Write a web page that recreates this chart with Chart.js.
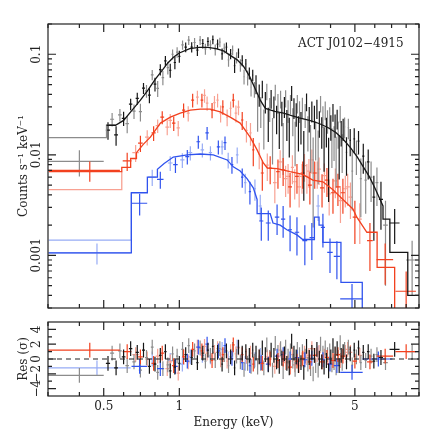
<!DOCTYPE html>
<html>
<head>
<meta charset="utf-8">
<script src="https://cdn.jsdelivr.net/npm/chart.js@4.4.1/dist/chart.umd.min.js"></script>
<style>
    body { margin: 0; background: #fff; }
    #wrap { position: relative; width: 443px; height: 443px; }
    canvas { position: absolute; left: 0; }
    #spectrum { top: 0; }
    #residuals { top: 315px; }
</style>
</head>
<body>
<div id="wrap">
    <canvas id="spectrum" width="443" height="315"></canvas>
    <canvas id="residuals" width="443" height="128"></canvas>
</div>
<script>
// ---- tick labels ----
const xTickLabels = [0.5, 1, 5];
const xTickMarks = [0.3, 0.4, 0.5, 0.6, 0.7, 0.8, 0.9, 1, 2, 3, 4, 5, 6, 7, 8, 9];
const specTickValues = [0.001, 0.01, 0.1];
const specTickLabels = ["0.001", "0.01", "0.1"];
const resTickValues = [-4, -2, 0, 2, 4];
const resTickLabels = ["\u22124", "\u22122", "0", "2", "4"];
const resMinorTicks = [-3, -1, 1, 3];

// ---- black (obs 1) ----
const blackE = [0.52, 0.56, 0.60, 0.64, 0.68, 0.72, 0.76, 0.80, 0.84, 0.88, 0.92, 0.96, 1.00,
    1.06, 1.12, 1.18, 1.24, 1.30, 1.36, 1.42, 1.48, 1.54, 1.60, 1.66, 1.72, 1.78, 1.84, 1.90, 1.96,
    2.02, 2.08, 2.14, 2.20, 2.26, 2.32, 2.38, 2.44, 2.50, 2.56, 2.62, 2.68, 2.74, 2.80, 2.86, 2.92, 2.98,
    3.05, 3.13, 3.21, 3.29, 3.37, 3.45, 3.53, 3.61, 3.69, 3.77, 3.85, 3.93, 4.01, 4.09, 4.17, 4.25, 4.33, 4.41, 4.49,
    4.63, 4.79, 4.97, 5.17, 5.40, 5.65, 5.95, 6.35, 7.20];
const blackV = [0.0176, 0.0158, 0.0231, 0.0319, 0.0365, 0.0460, 0.0393, 0.0505, 0.0705, 0.0860, 0.0694, 0.0828, 0.0953,
    0.118, 0.118, 0.110, 0.128, 0.134, 0.140, 0.126, 0.101, 0.118, 0.101, 0.077, 0.103, 0.087, 0.080, 0.065, 0.062,
    0.051, 0.040, 0.0455, 0.034, 0.0214, 0.0364, 0.0306, 0.0234, 0.0187, 0.0265, 0.0305, 0.0208, 0.0164, 0.0413, 0.0296, 0.0258, 0.0175,
    0.0197, 0.0104, 0.034, 0.0233, 0.0275, 0.0244, 0.029, 0.0210, 0.0176, 0.0128, 0.0176, 0.0091, 0.0193, 0.0267, 0.020, 0.023, 0.0107, 0.0169, 0.0183,
    0.0106, 0.0139, 0.0144, 0.0137, 0.0097, 0.0085, 0.0038, 0.0036, 0.0021];
const blackErr = [0.0035, 0.0035, 0.0037, 0.0042, 0.0050, 0.0058, 0.0067, 0.0078, 0.0090, 0.0100, 0.0110, 0.0120, 0.0128,
    0.013, 0.014, 0.014, 0.014, 0.014, 0.014, 0.014, 0.013, 0.013, 0.012, 0.012, 0.011, 0.011, 0.010, 0.009, 0.008,
    0.011, 0.010, 0.009, 0.0082, 0.008, 0.0077, 0.0075, 0.0074, 0.0073, 0.0073, 0.0072, 0.0071, 0.007, 0.007, 0.0069, 0.0068, 0.0067,
    0.007, 0.0069, 0.0068, 0.0066, 0.0065, 0.0064, 0.0063, 0.0062, 0.0061, 0.006, 0.0058, 0.0057, 0.0055, 0.0054, 0.0052, 0.0051, 0.005, 0.0048, 0.0046,
    0.0044, 0.0042, 0.004, 0.0036, 0.0032, 0.0028, 0.0024, 0.0018, 0.0008];
const blackW = [0.01, 0.01, 0.01, 0.01, 0.01, 0.01, 0.01, 0.01, 0.01, 0.01, 0.01, 0.01, 0.01,
    0.012, 0.012, 0.012, 0.012, 0.012, 0.012, 0.012, 0.012, 0.012, 0.012, 0.012, 0.012, 0.012, 0.012, 0.012, 0.012,
    0.012, 0.012, 0.012, 0.012, 0.012, 0.012, 0.012, 0.012, 0.012, 0.012, 0.012, 0.012, 0.012, 0.012, 0.012, 0.012, 0.012,
    0.015, 0.015, 0.015, 0.015, 0.015, 0.015, 0.015, 0.015, 0.015, 0.015, 0.015, 0.015, 0.015, 0.015, 0.015, 0.015, 0.015, 0.015, 0.015,
    0.03, 0.035, 0.04, 0.045, 0.055, 0.065, 0.075, 0.12, 0.33];
const blackRes = [-0.6, -1.2, 0.3, 1.4, 0.9, 1.2, -1.0, -0.7, 0.5, 1.0, -1.6, -1.1, -0.6,
    0.6, 0.2, -0.5, 0.8, 1.2, 1.7, 0.9, -0.7, 1.1, 0.3, -1.2, 1.6, 0.8, 1.0, 0.5, 1.2,
    0.8, 0.3, 1.5, 0.6, -0.8, 1.2, 0.5, -0.4, -1.0, 0.1, 0.7, -0.6, -1.2, 2.4, 0.8, 0.3, -0.9,
    -0.5, -1.8, 1.7, 0.2, 0.9, 0.5, 1.3, 0.1, -0.4, -1.1, -0.2, -1.6, 0.3, 1.8, 0.7, 1.4, -0.9, 0.5, 1.0,
    -0.4, 0.7, 1.2, 1.5, 0.9, 1.0, -0.3, 0.2, 1.3];

// ---- grey (obs 2) ----
const greyE = [0.40,
    0.54, 0.58, 0.62, 0.66, 0.70, 0.74, 0.78, 0.82, 0.86, 0.90, 0.94, 0.98,
    1.03, 1.09, 1.15, 1.21, 1.27, 1.33, 1.39, 1.45, 1.51, 1.57, 1.63, 1.69, 1.75, 1.81, 1.87, 1.93, 1.99,
    2.05, 2.11, 2.17, 2.23, 2.29, 2.35, 2.41, 2.47, 2.53, 2.59, 2.65, 2.71, 2.77, 2.83, 2.89, 2.95, 3.01,
    3.09, 3.17, 3.25, 3.33, 3.41, 3.49, 3.57, 3.65, 3.73, 3.81, 3.89, 3.97, 4.05, 4.13, 4.21, 4.29, 4.37, 4.45,
    4.55, 4.71, 4.88, 5.07, 5.28, 5.52, 5.80, 6.12, 6.62, 8.45];
const greyV = [0.0086,
    0.0226, 0.0250, 0.0204, 0.0272, 0.0269, 0.0432, 0.0625, 0.0459, 0.0587, 0.0736, 0.1000, 0.1050,
    0.124, 0.138, 0.131, 0.138, 0.113, 0.124, 0.111, 0.132, 0.115, 0.088, 0.110, 0.093, 0.078, 0.060, 0.059, 0.047, 0.045,
    0.028, 0.028, 0.0198, 0.043, 0.029, 0.0156, 0.0423, 0.0329, 0.0362, 0.0135, 0.0367, 0.0278, 0.0323, 0.0222, 0.0145, 0.0325, 0.0274,
    0.030, 0.0253, 0.0175, 0.0132, 0.0084, 0.0152, 0.0113, 0.0324, 0.0245, 0.028, 0.022, 0.0241, 0.0129, 0.014, 0.0099, 0.0165, 0.0257, 0.0113,
    0.019, 0.0186, 0.0069, 0.0101, 0.0058, 0.0056, 0.006, 0.0053, 0.0020, 0.0009];
const greyErr = [0.0025,
    0.0035, 0.0036, 0.0040, 0.0045, 0.0054, 0.0062, 0.0072, 0.0084, 0.0095, 0.0105, 0.0115, 0.0125,
    0.013, 0.014, 0.014, 0.014, 0.014, 0.014, 0.014, 0.014, 0.013, 0.013, 0.012, 0.012, 0.011, 0.010, 0.010, 0.009, 0.008,
    0.011, 0.0095, 0.0085, 0.008, 0.0078, 0.0076, 0.0075, 0.0074, 0.0073, 0.0072, 0.0071, 0.0071, 0.007, 0.0069, 0.0068, 0.0068, 0.0067,
    0.007, 0.0068, 0.0067, 0.0066, 0.0065, 0.0064, 0.0062, 0.0061, 0.006, 0.0059, 0.0058, 0.0056, 0.0055, 0.0053, 0.0052, 0.005, 0.0049, 0.0047,
    0.0045, 0.0043, 0.0041, 0.0038, 0.0034, 0.003, 0.0026, 0.0022, 0.0015, 0.0005];
const greyW = [0.10,
    0.01, 0.01, 0.01, 0.01, 0.01, 0.01, 0.01, 0.01, 0.01, 0.01, 0.01, 0.01,
    0.012, 0.012, 0.012, 0.012, 0.012, 0.012, 0.012, 0.012, 0.012, 0.012, 0.012, 0.012, 0.012, 0.012, 0.012, 0.012, 0.012,
    0.012, 0.012, 0.012, 0.012, 0.012, 0.012, 0.012, 0.012, 0.012, 0.012, 0.012, 0.012, 0.012, 0.012, 0.012, 0.012, 0.012,
    0.015, 0.015, 0.015, 0.015, 0.015, 0.015, 0.015, 0.015, 0.015, 0.015, 0.015, 0.015, 0.015, 0.015, 0.015, 0.015, 0.015, 0.015,
    0.03, 0.035, 0.04, 0.045, 0.05, 0.06, 0.07, 0.08, 0.14, 0.45];
const greyRes = [-2.2,
    0.8, 1.1, -0.9, -0.4, -1.5, 0.2, 1.6, -1.8, -1.3, -0.8, 0.7, 0.4,
    1.3, 1.8, 1.1, 1.5, -0.3, 0.5, -0.2, 1.4, 0.6, -0.9, 1.3, 0.4, -0.4, -1.4, -0.6, -1.0, -0.3,
    -1.1, -0.6, -1.2, 1.9, 0.2, -1.5, 2.1, 0.9, 1.4, -1.7, 1.6, 0.4, 1.1, -0.3, -1.4, 1.3, 0.6,
    1.0, 0.4, -0.7, -1.3, -2.0, -0.9, -1.5, 2.0, 0.8, 1.5, 0.6, 1.1, -0.8, -0.5, -1.2, 0.2, 2.2, -0.6,
    1.3, 1.6, -0.8, 0.3, -0.5, -0.2, 0.4, 0.6, -0.5, 1.0];

// ---- red ----
const redE = [0.44, 0.62, 0.70, 0.79, 0.855, 0.95, 1.04, 1.13, 1.23, 1.35, 1.49, 1.64, 1.78, 1.97, 2.14, 2.30,
    2.47, 2.59, 2.76, 2.94, 3.10, 3.31, 3.46, 3.70, 3.87, 4.09, 4.28, 4.48, 5.00, 5.74, 6.60, 8.0];
const redV = [0.0070, 0.0087, 0.0131, 0.0165, 0.0237, 0.0207, 0.0279, 0.035, 0.035, 0.0279, 0.030, 0.035, 0.0222, 0.0112, 0.0066, 0.0074,
    0.0068, 0.0071, 0.0048, 0.0061, 0.0066, 0.0050, 0.0066, 0.0047, 0.0056, 0.0042, 0.0048, 0.0042, 0.0024, 0.0014, 0.00091, 0.00044];
const redErr = [0.0016, 0.0018, 0.0024, 0.0028, 0.0035, 0.0034, 0.0045, 0.0055, 0.0055, 0.0048, 0.005, 0.0055, 0.0045, 0.0035, 0.0022, 0.0023,
    0.0022, 0.0022, 0.0018, 0.002, 0.002, 0.0018, 0.002, 0.0017, 0.0018, 0.0016, 0.0017, 0.0016, 0.0011, 0.0007, 0.0004, 0.00025];
const redW = [0.14, 0.025, 0.015, 0.015, 0.015, 0.015, 0.015, 0.015, 0.015, 0.015, 0.015, 0.02, 0.02, 0.02, 0.03, 0.03,
    0.04, 0.04, 0.05, 0.05, 0.06, 0.06, 0.06, 0.07, 0.07, 0.08, 0.08, 0.09, 0.1, 0.15, 0.5, 0.75];
const redRes = [1.2, 1.0, 0.3, -0.6, 0.8, -0.9, 0.3, 1.3, 1.1, -0.2, 0.6, 1.9, 0.6, -0.7, -0.6, 0.0,
    -0.2, 0.0, -1.1, -0.3, 0.1, -0.4, 0.5, -0.4, 0.2, -0.2, 0.6, 0.4, -0.3, -0.4, 0.4, 1.0];

const lightRedE = [0.67, 0.745, 0.82, 0.895, 0.92, 0.99, 1.085, 1.18, 1.26, 1.29, 1.38, 1.42, 1.46, 1.55, 1.60,
    1.68, 1.72, 1.85, 1.92, 2.08, 2.24, 2.40, 2.52, 2.65, 2.71, 2.82, 2.88, 3.00, 3.08, 3.15,
    3.22, 3.28, 3.37, 3.54, 3.60, 3.78, 3.95, 4.18, 4.38, 4.58, 4.68, 4.80, 5.23];
const lightRedV = [0.0105, 0.0150, 0.0195, 0.0189, 0.022, 0.0185, 0.026, 0.0375, 0.039, 0.0327, 0.033, 0.035, 0.026, 0.0237, 0.029,
    0.026, 0.0298, 0.0175, 0.0165, 0.0102, 0.0079, 0.0053, 0.0085, 0.0058, 0.0061, 0.0075, 0.0054, 0.0048, 0.0061, 0.0078,
    0.0061, 0.0069, 0.0089, 0.0066, 0.0072, 0.0062, 0.0041, 0.0055, 0.0035, 0.0046, 0.0048, 0.0038, 0.0023];
const lightRedErr = [0.0020, 0.0026, 0.003, 0.0032, 0.0035, 0.0032, 0.0045, 0.0058, 0.006, 0.0053, 0.0055, 0.0055, 0.005, 0.0045, 0.005,
    0.005, 0.005, 0.0042, 0.0042, 0.003, 0.0024, 0.002, 0.0026, 0.002, 0.002, 0.0024, 0.0018, 0.0018, 0.002, 0.0024,
    0.002, 0.0022, 0.0024, 0.002, 0.0022, 0.002, 0.0016, 0.0018, 0.0014, 0.0016, 0.0017, 0.0015, 0.001];
const lightRedW = [0.02, 0.015, 0.015, 0.015, 0.015, 0.015, 0.015, 0.015, 0.015, 0.015, 0.015, 0.015, 0.015, 0.015, 0.015,
    0.02, 0.02, 0.02, 0.02, 0.02, 0.03, 0.04, 0.04, 0.04, 0.05, 0.04, 0.05, 0.05, 0.06, 0.05,
    0.06, 0.05, 0.06, 0.06, 0.06, 0.06, 0.06, 0.07, 0.07, 0.08, 0.09, 0.08, 0.1];
const lightRedRes = [0.6, 0.0, 0.4, -1.3, -0.4, -1.9, -0.4, 1.6, 1.7, 0.8, 0.9, 1.4, -0.1, -0.3, 1.0,
    0.7, 1.5, 0.4, 0.8, 0.3, 0.3, -1.0, 1.2, -0.5, -0.4, 0.6, -0.8, -0.9, -0.1, 0.8,
    0.2, 0.5, 1.4, 0.6, 0.9, 0.4, -0.6, 0.6, -0.2, 0.9, 1.3, 0.9, 0.5];

// ---- blue ----
const blueE = [0.695, 0.84, 0.965, 1.076, 1.19, 1.29, 1.43, 1.52, 1.62, 1.78, 1.91, 2.12,
    2.26, 2.45, 2.59, 2.76, 2.94, 3.16, 3.37, 3.73, 3.98, 4.24, 4.87, 6.20];
const blueV = [0.0033, 0.0057, 0.0080, 0.0096, 0.0135, 0.0165, 0.0120, 0.0132, 0.0080, 0.0060, 0.0043, 0.0022,
    0.0021, 0.0024, 0.0023, 0.0018, 0.0017, 0.0014, 0.0015, 0.0019, 0.00107, 0.00098, 0.00037, 0.0001];
const blueErr = [0.0008, 0.0011, 0.0014, 0.0016, 0.002, 0.0024, 0.0019, 0.002, 0.0015, 0.0013, 0.0011, 0.0008,
    0.0007, 0.0008, 0.0008, 0.0007, 0.0007, 0.0006, 0.0006, 0.0007, 0.0004, 0.0004, 0.00015, 0.00008];
const blueW = [0.05, 0.025, 0.02, 0.02, 0.02, 0.02, 0.02, 0.02, 0.02, 0.02, 0.02, 0.04,
    0.05, 0.05, 0.05, 0.05, 0.06, 0.07, 0.07, 0.07, 0.1, 0.12, 0.5, 0.85];
const blueRes = [-1.0, -1.3, -1.0, -0.3, 1.6, 2.0, 1.1, 1.8, 0.1, -0.5, -0.9, -0.5,
    -0.7, 0.4, 0.6, 0.0, 0.2, -0.1, 0.1, -0.1, -0.7, -0.9, -1.8, 0.0];

const lightBlueE = [0.47, 0.78, 0.92, 1.028, 1.106, 1.235, 1.33, 1.48, 1.565, 1.70, 1.83, 2.00, 2.10, 3.57];
const lightBlueV = [0.00106, 0.0060, 0.0083, 0.0089, 0.0105, 0.0112, 0.0105, 0.0120, 0.0089, 0.0100, 0.0053, 0.0046, 0.0031, 0.0031];
const lightBlueErr = [0.00025, 0.0011, 0.0014, 0.0015, 0.0017, 0.0018, 0.0017, 0.0019, 0.0016, 0.0018, 0.0012, 0.0011, 0.0009, 0.0009];
const lightBlueW = [0.17, 0.03, 0.02, 0.02, 0.02, 0.02, 0.02, 0.02, 0.02, 0.02, 0.02, 0.02, 0.03, 0.06];
const lightBlueRes = [-1.2, 0.0, -0.2, -0.7, 0.3, 0.5, 0.3, 1.3, 0.0, 1.6, -0.6, -0.1, 0.5, 0.8];

// ---- models ----
const greyModelE = [0.302, 0.513, 0.513, 0.557];
const greyModelV = [0.0148, 0.0148, 0.0197, 0.0197];
const blackModelE = [0.513, 0.557, 0.60, 0.65, 0.70, 0.75, 0.80, 0.85, 0.90, 0.95, 1.0, 1.1, 1.2, 1.3, 1.4,
    1.5, 1.6, 1.7, 1.8, 1.9, 2.0, 2.1, 2.2, 2.4, 2.6, 2.8, 3.0, 3.3, 3.6, 3.9,
    4.2, 4.5, 4.8, 5.1, 5.4, 5.7, 6.0, 6.3, 6.47, 6.47, 6.89, 6.89, 8.12, 8.12, 9.0];
const blackModelV = [0.0197, 0.0197, 0.022, 0.028, 0.035, 0.044, 0.056, 0.068, 0.082, 0.094, 0.103, 0.114, 0.117, 0.117, 0.114,
    0.108, 0.097, 0.088, 0.076, 0.061, 0.046, 0.035, 0.029, 0.027, 0.026, 0.0245, 0.0233, 0.022, 0.0205, 0.0187,
    0.0167, 0.0142, 0.0118, 0.0096, 0.0076, 0.0061, 0.0047, 0.0036, 0.0031, 0.0023, 0.0023, 0.00107, 0.00107, 0.0004, 0.0004];
const redModelE = [0.302, 0.59, 0.59, 0.64, 0.64, 0.675, 0.675, 0.72, 0.767, 0.841, 0.921, 1.009, 1.106, 1.212, 1.328,
    1.455, 1.594, 1.747, 1.914, 2.04, 2.16, 2.24, 2.45, 2.76, 3.1, 3.4, 3.73, 4.09, 4.48, 4.91,
    5.09, 5.58, 6.13, 6.13, 7.2, 7.2];
const redModelV = [0.0068, 0.0068, 0.0075, 0.0075, 0.0092, 0.0092, 0.0105, 0.0128, 0.0150, 0.0207, 0.0237, 0.026, 0.0279, 0.0285, 0.0285,
    0.0267, 0.0237, 0.0207, 0.015, 0.0112, 0.0083, 0.0074, 0.0073, 0.0068, 0.0064, 0.0056, 0.0054, 0.0045, 0.0036, 0.0029,
    0.0024, 0.0017, 0.0017, 0.00076, 0.00076, 0.0001];
const lightRedModelE = [0.302, 0.59, 0.59];
const lightRedModelV = [0.0045, 0.0045, 0.0068];
const blueModelE = [0.302, 0.644, 0.644, 0.746, 0.746, 0.818, 0.818, 0.87, 0.946, 1.076, 1.212, 1.365, 1.55, 1.64, 1.747,
    1.86, 1.97, 2.04, 2.04, 2.3, 2.36, 2.52, 2.68, 2.94, 3.1, 3.45, 3.45, 3.6, 3.6, 3.73,
    3.73, 4.4, 4.4, 5.35, 5.35];
const blueModelV = [0.00106, 0.00106, 0.0042, 0.0042, 0.0060, 0.0060, 0.0072, 0.0082, 0.0095, 0.0100, 0.0102, 0.0100, 0.0089, 0.0076, 0.0069,
    0.0058, 0.0047, 0.0036, 0.0026, 0.0026, 0.0021, 0.0020, 0.0018, 0.0016, 0.00144, 0.00144, 0.0024, 0.0024, 0.0020, 0.0020,
    0.00135, 0.00135, 0.00054, 0.00054, 0.0001];
const lightBlueModelE = [0.302, 0.644, 0.644];
const lightBlueModelV = [0.00142, 0.00142, 0.0042];

const colors = {
    black: "#161616",
    grey: "#8c8c8c",
    red: "#f2411f",
    lightRed: "#f8a192",
    blue: "#3053ee",
    lightBlue: "#97acf5",
};
const fontFamily = "'DejaVu Serif', 'Liberation Serif', serif";
const textColor = "#222";

function specPoints(E, V, Err, W) {
    return E.map((e, i) => ({
        x: e,
        y: V[i],
        xMin: e - W[i],
        xMax: e + W[i],
        yMin: Math.max(V[i] - Err[i], 1e-6),
        yMax: V[i] + Err[i],
    }));
}

function resPoints(E, R, W) {
    return E.map((e, i) => ({
        x: e,
        y: R[i],
        xMin: e - W[i],
        xMax: e + W[i],
        yMin: R[i] - 1,
        yMax: R[i] + 1,
    }));
}

function modelSet(E, V, color) {
    return {
        data: E.map((e, i) => ({ x: e, y: V[i] })),
        showLine: true,
        borderColor: color,
        borderWidth: 1.3,
        pointRadius: 0,
        fill: false,
        tension: 0,
    };
}

function barSet(points, color) {
    return {
        data: points,
        showLine: false,
        pointRadius: 0,
        borderColor: color,
        errorBars: true,
    };
}

// draws the cross for every point, right after its own dataset
const errorBars = {
    id: "errorBars",
    afterDatasetDraw(chart, args) {
        const ds = chart.data.datasets[args.index];
        if (!ds.errorBars) return;

        const { ctx, chartArea: a, scales: { x, y } } = chart;
        ctx.save();
        ctx.beginPath();
        ctx.rect(a.left, a.top, a.right - a.left, a.bottom - a.top);
        ctx.clip();
        ctx.strokeStyle = ds.borderColor;
        ctx.lineWidth = 1.2;
        ctx.beginPath();
        for (const p of ds.data) {
            const px = x.getPixelForValue(p.x);
            const py = y.getPixelForValue(p.y);
            ctx.moveTo(x.getPixelForValue(p.xMin), py);
            ctx.lineTo(x.getPixelForValue(p.xMax), py);
            ctx.moveTo(px, y.getPixelForValue(p.yMin));
            ctx.lineTo(px, y.getPixelForValue(p.yMax));
        }
        ctx.stroke();
        ctx.restore();
    },
};

function logMinorTicks(min, max) {
    const ticks = [];
    for (let exp = -4; exp <= 0; exp++) {
        for (let k = 1; k <= 9; k++) {
            const v = k * Math.pow(10, exp);
            if (v >= min && v <= max) ticks.push(v);
        }
    }
    return ticks;
}

// box with inward ticks, rotated y labels, optional zero line and note
function makeFrame(cfg) {
    return {
        id: "panelFrame",
        afterDraw(chart) {
            const { ctx, chartArea: a, scales: { x, y } } = chart;
            ctx.save();
            ctx.strokeStyle = "#222";
            ctx.lineWidth = 1.2;

            if (cfg.zeroLine) {
                const y0 = y.getPixelForValue(0);
                ctx.setLineDash([5, 4]);
                ctx.beginPath();
                ctx.moveTo(a.left, y0);
                ctx.lineTo(a.right, y0);
                ctx.stroke();
                ctx.setLineDash([]);
            }

            ctx.strokeRect(a.left, a.top, a.right - a.left, a.bottom - a.top);

            ctx.beginPath();
            for (const v of xTickMarks) {
                const px = x.getPixelForValue(v);
                const len = xTickLabels.includes(v) ? 8 : 4;
                ctx.moveTo(px, a.bottom);
                ctx.lineTo(px, a.bottom - len);
                ctx.moveTo(px, a.top);
                ctx.lineTo(px, a.top + len);
            }
            for (const v of cfg.yMinor) {
                const py = y.getPixelForValue(v);
                ctx.moveTo(a.left, py);
                ctx.lineTo(a.left + 4, py);
                ctx.moveTo(a.right, py);
                ctx.lineTo(a.right - 4, py);
            }
            for (const v of cfg.yMajor) {
                const py = y.getPixelForValue(v);
                ctx.moveTo(a.left, py);
                ctx.lineTo(a.left + 8, py);
                ctx.moveTo(a.right, py);
                ctx.lineTo(a.right - 8, py);
            }
            ctx.stroke();

            ctx.fillStyle = textColor;
            ctx.font = "12px " + fontFamily;
            ctx.textAlign = "center";
            ctx.textBaseline = "middle";
            cfg.yMajor.forEach((v, i) => {
                ctx.save();
                ctx.translate(37, y.getPixelForValue(v));
                ctx.rotate(-Math.PI / 2);
                ctx.fillText(cfg.yLabels[i], 0, 0);
                ctx.restore();
            });

            if (cfg.note) {
                ctx.textAlign = "left";
                ctx.fillText(cfg.note, 298, 44);
            }
            ctx.restore();
        },
    };
}

const axisFont = { family: fontFamily, size: 12 };

new Chart(document.getElementById("spectrum"), {
    type: "scatter",
    data: {
        datasets: [
            modelSet(blackModelE, blackModelV, colors.black),
            modelSet(redModelE, redModelV, colors.red),
            modelSet(blueModelE, blueModelV, colors.blue),
            modelSet(greyModelE, greyModelV, colors.grey),
            modelSet(lightRedModelE, lightRedModelV, colors.lightRed),
            modelSet(lightBlueModelE, lightBlueModelV, colors.lightBlue),
            barSet(specPoints(blackE, blackV, blackErr, blackW), colors.black),
            barSet(specPoints(redE, redV, redErr, redW), colors.red),
            barSet(specPoints(blueE, blueV, blueErr, blueW), colors.blue),
            barSet(specPoints(greyE, greyV, greyErr, greyW), colors.grey),
            barSet(specPoints(lightRedE, lightRedV, lightRedErr, lightRedW), colors.lightRed),
            barSet(specPoints(lightBlueE, lightBlueV, lightBlueErr, lightBlueW), colors.lightBlue),
        ],
    },
    options: {
        responsive: false,
        animation: false,
        devicePixelRatio: 1,
        layout: { padding: { left: 0, right: 24, top: 24, bottom: 7 } },
        plugins: { legend: { display: false }, tooltip: { enabled: false } },
        scales: {
            x: { type: "logarithmic", min: 0.3, max: 9, display: false },
            y: {
                type: "logarithmic",
                min: 0.0003,
                max: 0.2,
                grid: { display: false, drawTicks: false },
                border: { display: false },
                ticks: { display: false },
                title: {
                    display: true,
                    text: "Counts s\u207B\u00B9 keV\u207B\u00B9",
                    color: textColor,
                    font: axisFont,
                    padding: { top: 17, bottom: 0 },
                },
                afterFit(scale) {
                    scale.width = 48;
                },
            },
        },
    },
    plugins: [errorBars, makeFrame({
        yMajor: specTickValues,
        yLabels: specTickLabels,
        yMinor: logMinorTicks(0.0003, 0.2),
        note: "ACT J0102\u22124915",
    })],
});

new Chart(document.getElementById("residuals"), {
    type: "scatter",
    data: {
        datasets: [
            barSet(resPoints(blackE, blackRes, blackW), colors.black),
            barSet(resPoints(redE, redRes, redW), colors.red),
            barSet(resPoints(blueE, blueRes, blueW), colors.blue),
            barSet(resPoints(greyE, greyRes, greyW), colors.grey),
            barSet(resPoints(lightRedE, lightRedRes, lightRedW), colors.lightRed),
            barSet(resPoints(lightBlueE, lightBlueRes, lightBlueW), colors.lightBlue),
        ],
    },
    options: {
        responsive: false,
        animation: false,
        devicePixelRatio: 1,
        layout: { padding: { left: 0, right: 24, top: 7, bottom: 0 } },
        plugins: { legend: { display: false }, tooltip: { enabled: false } },
        scales: {
            x: {
                type: "logarithmic",
                min: 0.3,
                max: 9,
                grid: { display: false, drawTicks: false },
                border: { display: false },
                ticks: {
                    autoSkip: false,
                    maxRotation: 0,
                    padding: 4,
                    color: textColor,
                    font: axisFont,
                    callback: (value) => {
                        const label = xTickLabels.find((t) => Math.abs(t - value) < 1e-9);
                        return label === undefined ? "" : String(label);
                    },
                },
                title: {
                    display: true,
                    text: "Energy (keV)",
                    color: textColor,
                    font: axisFont,
                    padding: { top: 0, bottom: 13 },
                },
                afterFit(scale) {
                    scale.height = 47;
                },
            },
            y: {
                min: -5,
                max: 5,
                grid: { display: false, drawTicks: false },
                border: { display: false },
                ticks: { display: false },
                title: {
                    display: true,
                    text: "Res (\u03C3)",
                    color: textColor,
                    font: axisFont,
                    padding: { top: 17, bottom: 0 },
                },
                afterFit(scale) {
                    scale.width = 48;
                },
            },
        },
    },
    plugins: [errorBars, makeFrame({
        yMajor: resTickValues,
        yLabels: resTickLabels,
        yMinor: resMinorTicks,
        zeroLine: true,
    })],
});
</script>
</body>
</html>
